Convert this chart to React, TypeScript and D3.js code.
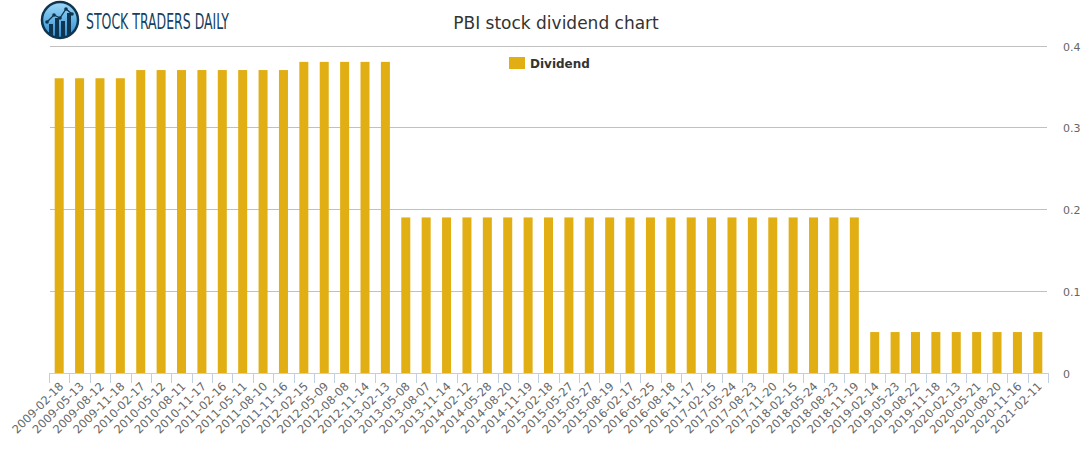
import React from "react";
import * as d3 from "d3";

const dates = [
  "2009-02-18", "2009-05-13", "2009-08-12", "2009-11-18",
  "2010-02-17", "2010-05-12", "2010-08-11", "2010-11-17",
  "2011-02-16", "2011-05-11", "2011-08-10", "2011-11-16",
  "2012-02-15", "2012-05-09", "2012-08-08", "2012-11-14",
  "2013-02-13", "2013-05-08", "2013-08-07", "2013-11-14",
  "2014-02-12", "2014-05-28", "2014-08-20", "2014-11-19",
  "2015-02-18", "2015-05-27", "2015-05-27", "2015-08-19",
  "2016-02-17", "2016-05-25", "2016-08-18", "2016-11-17",
  "2017-02-15", "2017-05-24", "2017-08-23", "2017-11-20",
  "2018-02-15", "2018-05-24", "2018-08-23", "2018-11-19",
  "2019-02-14", "2019-05-23", "2019-08-22", "2019-11-18",
  "2020-02-13", "2020-05-21", "2020-08-20", "2020-11-16",
  "2021-02-11",
];

const dividends = [
  0.36, 0.36, 0.36, 0.36,
  0.37, 0.37, 0.37, 0.37,
  0.37, 0.37, 0.37, 0.37,
  0.38, 0.38, 0.38, 0.38,
  0.38, 0.19, 0.19, 0.19,
  0.19, 0.19, 0.19, 0.19,
  0.19, 0.19, 0.19, 0.19,
  0.19, 0.19, 0.19, 0.19,
  0.19, 0.19, 0.19, 0.19,
  0.19, 0.19, 0.19, 0.19,
  0.05, 0.05, 0.05, 0.05,
  0.05, 0.05, 0.05, 0.05,
  0.05,
];

const yTicks = [0, 0.1, 0.2, 0.3, 0.4];

const W = 1091;
const H = 450;
const margin = { top: 45.5, right: 43, bottom: 77, left: 49 };
const barColor = "#e1ae14";
const font = "'DejaVu Sans', sans-serif";

const Logo = () => {
  const bars = [
    [-11, 4, 8],
    [-5, -2, 14],
    [1, 1, 11],
    [7, -7, 19],
  ];
  const pts: [number, number][] = [[-13, 2], [-6, -5], [0, -2], [6, -11], [12, -6]];
  return (
    <g transform="translate(60,20)">
      <defs>
        <linearGradient id="logoGrad" x1="0" y1="0" x2="0" y2="1">
          <stop offset="0%" stopColor="#9ed8f7" />
          <stop offset="100%" stopColor="#2b8fd3" />
        </linearGradient>
        <clipPath id="logoClip">
          <circle r={17} />
        </clipPath>
      </defs>
      <circle r={18} fill="url(#logoGrad)" stroke="#0f3550" strokeWidth={2.5} />
      <g clipPath="url(#logoClip)">
        {bars.map((b, i) => (
          <rect key={i} x={b[0]} y={b[1]} width={4} height={b[2] + 20} fill="#0f3550" />
        ))}
        <path d={d3.line()(pts) || ""} fill="none" stroke="#0f3550" strokeWidth={1.3} />
        {pts.map((p, i) => (
          <circle key={i} cx={p[0]} cy={p[1]} r={1.8} fill="#0f3550" />
        ))}
      </g>
    </g>
  );
};

export default function App() {
  const idx = dates.map((_, i) => i);
  const x = d3
    .scaleBand<number>()
    .domain(idx)
    .range([margin.left, W - margin.right])
    .paddingInner(0)
    .paddingOuter(0);
  const y = d3
    .scaleLinear()
    .domain([0, 0.4])
    .range([H - margin.bottom, margin.top]);

  const barW = 9;
  const base = y(0);

  return (
    <svg
      width={W}
      height={H}
      style={{ position: "absolute", left: 0, top: 0, background: "#fff" }}
      fontFamily={font}
    >
      <Logo />
      <text
        x={86}
        y={29}
        fontFamily="'Liberation Sans Narrow', 'DejaVu Sans Condensed', sans-serif"
        fontSize={22}
        fill="#173f5f"
        textLength={143}
        lengthAdjust="spacingAndGlyphs"
      >
        STOCK TRADERS DAILY
      </text>

      <text x={556} y={29} textAnchor="middle" fontSize={17} fill="#333">
        PBI stock dividend chart
      </text>

      {/* grid */}
      {yTicks.map((t) =>
        t === 0 ? null : (
          <line
            key={t}
            x1={margin.left + 1}
            x2={W - margin.right - 1}
            y1={Math.round(y(t)) + 0.5}
            y2={Math.round(y(t)) + 0.5}
            stroke="#c0c0c0"
            strokeWidth={1}
          />
        )
      )}
      {yTicks.map((t) => (
        <text key={"l" + t} x={1063} y={y(t) + 5} fontSize={11} fill="#666">
          {t === 0 ? "0" : t.toFixed(1)}
        </text>
      ))}

      {/* bars */}
      {dividends.map((v, i) => (
        <rect
          key={i}
          x={(x(i) as number) + x.bandwidth() / 2 - barW / 2}
          y={y(v)}
          width={barW}
          height={base - y(v)}
          fill={barColor}
        />
      ))}

      {/* x axis */}
      <line
        x1={margin.left}
        x2={W - margin.right}
        y1={Math.round(base) + 0.5}
        y2={Math.round(base) + 0.5}
        stroke="#c0d0e0"
      />
      {idx.concat([dates.length]).map((i) => {
        const tx = Math.round(margin.left + i * x.step()) + 0.5;
        return (
          <line key={"t" + i} x1={tx} x2={tx} y1={base} y2={base + 10} stroke="#c0d0e0" />
        );
      })}
      {dates.map((d, i) => {
        const cx = (x(i) as number) + x.bandwidth() / 2;
        return (
          <text
            key={"x" + i}
            transform={`translate(${cx + 5},${base + 14}) rotate(-45)`}
            textAnchor="end"
            fontSize={11.5}
            fill="#666"
          >
            {d}
          </text>
        );
      })}

      {/* legend */}
      <rect x={509} y={57} width={16} height={12} fill={barColor} />
      <text x={530} y={68} fontSize={12} fontWeight="bold" fill="#333">
        Dividend
      </text>
    </svg>
  );
}
